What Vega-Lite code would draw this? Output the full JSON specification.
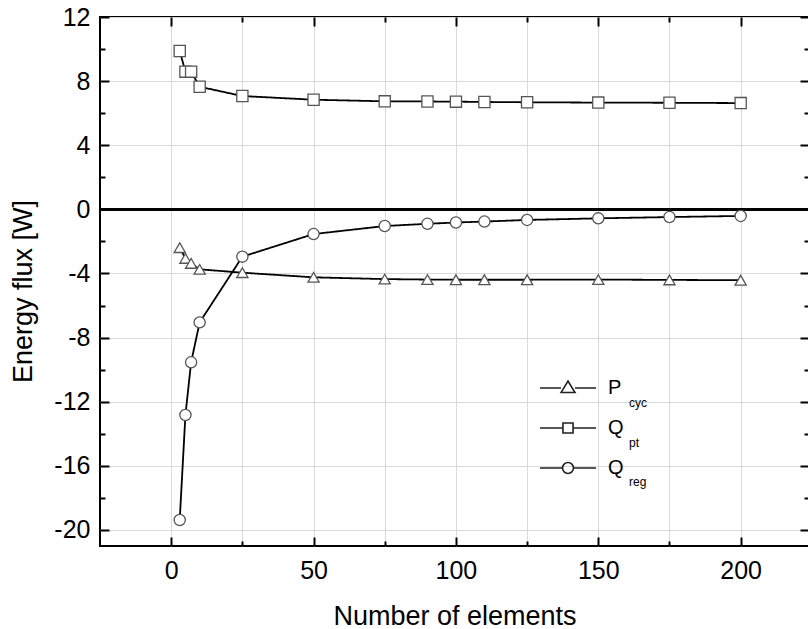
{
  "$schema": "https://vega.github.io/schema/vega-lite/v6.json",
  "width": 709,
  "height": 529,
  "autosize": {"type": "none"},
  "padding": {"left": 100, "top": 17, "right": 0, "bottom": 83},
  "background": "white",
  "config": {
    "font": "Liberation Sans",
    "view": {"stroke": "black", "strokeWidth": 2},
    "axis": {"domain": false, "labelColor": "black", "titleColor": "black", "titleFontWeight": "normal", "tickColor": "black", "tickWidth": 2}
  },
  "data": {
    "values": [
      {"n": 3, "value": -2.39, "series": "P_cyc"},
      {"n": 5, "value": -3.06, "series": "P_cyc"},
      {"n": 7, "value": -3.37, "series": "P_cyc"},
      {"n": 10, "value": -3.74, "series": "P_cyc"},
      {"n": 25, "value": -3.95, "series": "P_cyc"},
      {"n": 50, "value": -4.24, "series": "P_cyc"},
      {"n": 75, "value": -4.35, "series": "P_cyc"},
      {"n": 90, "value": -4.38, "series": "P_cyc"},
      {"n": 100, "value": -4.39, "series": "P_cyc"},
      {"n": 110, "value": -4.39, "series": "P_cyc"},
      {"n": 125, "value": -4.39, "series": "P_cyc"},
      {"n": 150, "value": -4.38, "series": "P_cyc"},
      {"n": 175, "value": -4.4, "series": "P_cyc"},
      {"n": 200, "value": -4.42, "series": "P_cyc"},
      {"n": 3, "value": 9.88, "series": "Q_pt"},
      {"n": 5, "value": 8.59, "series": "Q_pt"},
      {"n": 7, "value": 8.59, "series": "Q_pt"},
      {"n": 10, "value": 7.65, "series": "Q_pt"},
      {"n": 25, "value": 7.07, "series": "Q_pt"},
      {"n": 50, "value": 6.84, "series": "Q_pt"},
      {"n": 75, "value": 6.74, "series": "Q_pt"},
      {"n": 90, "value": 6.73, "series": "Q_pt"},
      {"n": 100, "value": 6.72, "series": "Q_pt"},
      {"n": 110, "value": 6.7, "series": "Q_pt"},
      {"n": 125, "value": 6.68, "series": "Q_pt"},
      {"n": 150, "value": 6.66, "series": "Q_pt"},
      {"n": 175, "value": 6.65, "series": "Q_pt"},
      {"n": 200, "value": 6.63, "series": "Q_pt"},
      {"n": 3, "value": -19.38, "series": "Q_reg"},
      {"n": 5, "value": -12.83, "series": "Q_reg"},
      {"n": 7, "value": -9.54, "series": "Q_reg"},
      {"n": 10, "value": -7.05, "series": "Q_reg"},
      {"n": 25, "value": -2.95, "series": "Q_reg"},
      {"n": 50, "value": -1.54, "series": "Q_reg"},
      {"n": 75, "value": -1.04, "series": "Q_reg"},
      {"n": 90, "value": -0.9, "series": "Q_reg"},
      {"n": 100, "value": -0.82, "series": "Q_reg"},
      {"n": 110, "value": -0.76, "series": "Q_reg"},
      {"n": 125, "value": -0.66, "series": "Q_reg"},
      {"n": 150, "value": -0.56, "series": "Q_reg"},
      {"n": 175, "value": -0.48, "series": "Q_reg"},
      {"n": 200, "value": -0.41, "series": "Q_reg"}
    ]
  },
  "layer": [
    {
      "mark": {"type": "rule", "color": "black", "strokeWidth": 2},
      "encoding": {
        "y": {"datum": 0, "type": "quantitative", "axis": null}
      }
    },
    {
      "mark": {"type": "line", "color": "black", "strokeWidth": 1.8},
      "encoding": {
        "x": {
          "field": "n", "type": "quantitative",
          "scale": {"domain": [-25, 224], "nice": false, "zero": false},
          "axis": {
            "orient": "bottom",
            "values": [0, 25, 50, 75, 100, 125, 150, 175, 200],
            "labelExpr": "datum.value % 50 === 0 ? datum.label : ''",
            "tickSize": {"condition": {"test": "datum.value % 50 === 0", "value": -9}, "value": -5},
            "labelFontSize": 25,
            "labelPadding": 21,
            "grid": true,
            "gridColor": "#d9d9d9",
            "gridWidth": 1,
            "title": "Number of elements",
            "titleFontSize": 27,
            "titlePadding": 20
          }
        },
        "y": {
          "field": "value", "type": "quantitative",
          "scale": {"domain": [-21, 12], "nice": false, "zero": false},
          "axis": {
            "orient": "left",
            "values": [-20, -18, -16, -14, -12, -10, -8, -6, -4, -2, 0, 2, 4, 6, 8, 10, 12],
            "labelExpr": "datum.value % 4 === 0 ? (datum.value < 0 ? '-' + abs(datum.value) : '' + datum.value) : ''",
            "tickSize": {"condition": {"test": "datum.value % 4 === 0", "value": -9}, "value": -5},
            "labelFontSize": 25,
            "labelPadding": 19,
            "grid": true,
            "gridColor": "#d9d9d9",
            "gridWidth": 1,
            "gridOpacity": {"condition": {"test": "datum.value % 4 === 0", "value": 1}, "value": 0},
            "title": "Energy flux [W]",
            "titleFontSize": 27,
            "titlePadding": 16,
            "titleY": 274
          }
        },
        "strokeDash": {
          "field": "series", "type": "nominal",
          "scale": {"domain": ["P_cyc", "Q_pt", "Q_reg"], "range": [[1, 0], [1, 0], [1, 0]]},
          "legend": {
            "orient": "none",
            "legendX": 517,
            "legendY": 380,
            "title": null,
            "labelExpr": "substring(datum.label, 2)",
            "labelFontSize": 12,
            "labelColor": "black",
            "symbolOpacity": 0,
            "symbolSize": 1,
            "labelOffset": 0,
            "rowPadding": 27.7,
            "padding": 0
          }
        }
      }
    },
    {
      "mark": {"type": "point", "filled": false, "fill": "white", "stroke": "#555555", "strokeWidth": 1.3, "size": 125, "opacity": 1},
      "encoding": {
        "x": {
          "field": "n", "type": "quantitative",
          "axis": {
            "orient": "top",
            "values": [0, 25, 50, 75, 100, 125, 150, 175, 200],
            "labels": false,
            "tickSize": {"condition": {"test": "datum.value % 50 === 0", "value": -9}, "value": -5},
            "grid": false,
            "title": null
          }
        },
        "y": {
          "field": "value", "type": "quantitative",
          "axis": {
            "orient": "right",
            "values": [-20, -18, -16, -14, -12, -10, -8, -6, -4, -2, 0, 2, 4, 6, 8, 10, 12],
            "labels": false,
            "tickSize": {"condition": {"test": "datum.value % 4 === 0", "value": -9}, "value": -5},
            "grid": false,
            "title": null
          }
        },
        "shape": {
          "field": "series", "type": "nominal",
          "scale": {"range": ["triangle-up", "square", "circle"]},
          "legend": null
        }
      }
    },
    {
      "transform": [{"filter": "datum.n === 200"}],
      "mark": {"type": "point", "filled": false, "color": "#222222", "strokeWidth": 1.6, "size": 196, "opacity": 0},
      "encoding": {
        "x": {"field": "n", "type": "quantitative", "axis": null},
        "y": {"field": "value", "type": "quantitative", "axis": null},
        "shape": {
          "field": "series", "type": "nominal",
          "scale": {"range": [
            "M-4,0H-1M1,0H4M-1,0.65L0,-1L1,0.65Z",
            "M-4,0H-0.72M0.72,0H4M-0.72,-0.72H0.72V0.72H-0.72Z",
            "M-4,0H-0.78M0.78,0H4M0.78,0A0.78,0.78 0 1,1 -0.78,0A0.78,0.78 0 1,1 0.78,0Z"
          ]},
          "legend": {
            "orient": "none",
            "legendX": 458,
            "legendY": 361,
            "title": null,
            "labelExpr": "substring(datum.label, 0, 1)",
            "labelFontSize": 20,
            "labelColor": "black",
            "symbolSize": 196,
            "symbolStrokeWidth": 1.6,
            "symbolStrokeColor": "#222222",
            "symbolOpacity": 1,
            "labelOffset": 30,
            "rowPadding": 20,
            "padding": 0
          }
        }
      }
    }
  ],
  "resolve": {
    "scale": {"shape": "independent"},
    "axis": {"x": "independent", "y": "independent"}
  }
}
